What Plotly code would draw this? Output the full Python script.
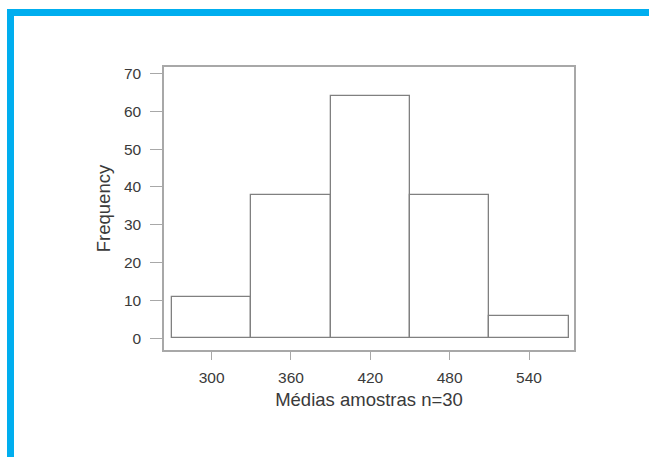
import plotly.graph_objects as go

# Data
bin_centers = [300, 360, 420, 480, 540]
counts = [11, 38, 64, 38, 6]
bin_width = 60
x_ticks = [300, 360, 420, 480, 540]
y_ticks = [0, 10, 20, 30, 40, 50, 60, 70]
x_title = "Médias amostras n=30"
y_title = "Frequency"

W, H = 649, 457
L, R, T, B = 164, 75, 67, 107
pw, ph = W - L - R, H - T - B

def px(x):
    return (x - L) / pw

def py(y):
    return (H - B - y) / ph

fig = go.Figure()
fig.add_trace(go.Bar(
    x=bin_centers, y=counts, width=[bin_width] * len(counts),
    marker=dict(color="white", line=dict(color="#808080", width=1.3)),
    hoverinfo="x+y",
))

font_family = "Liberation Sans, Arial, sans-serif"
axis_common = dict(
    showgrid=False, zeroline=False, showline=True, mirror=True,
    linecolor="#a8a8a8", linewidth=1.5, ticks="outside", tickcolor="#a8a8a8",
    tickwidth=1.3, tickfont=dict(family=font_family, size=15.5, color="#3a3a3a"),
)

fig.update_layout(
    width=W, height=H,
    margin=dict(l=L, r=R, t=T, b=B),
    paper_bgcolor="white", plot_bgcolor="white",
    showlegend=False,
    bargap=0,
    xaxis=dict(range=[264, 574], tickvals=x_ticks, ticklen=8, ticklabelstandoff=5,
               title=dict(text=x_title, font=dict(family=font_family, size=18.5, color="#3a3a3a"), standoff=8),
               **axis_common),
    yaxis=dict(range=[-3.1, 71.7], tickvals=y_ticks, ticklen=12, ticklabelstandoff=6,
               title=dict(text=y_title, font=dict(family=font_family, size=18.5, color="#3a3a3a"), standoff=8),
               **axis_common),
    shapes=[
        dict(type="rect", xref="paper", yref="paper", x0=px(7), x1=px(W + 5), y0=py(16), y1=py(9),
             fillcolor="#00aeef", line=dict(width=0), layer="above"),
        dict(type="rect", xref="paper", yref="paper", x0=px(7), x1=px(14), y0=py(H + 5), y1=py(9),
             fillcolor="#00aeef", line=dict(width=0), layer="above"),
    ],
)

fig.write_html("out.html")
